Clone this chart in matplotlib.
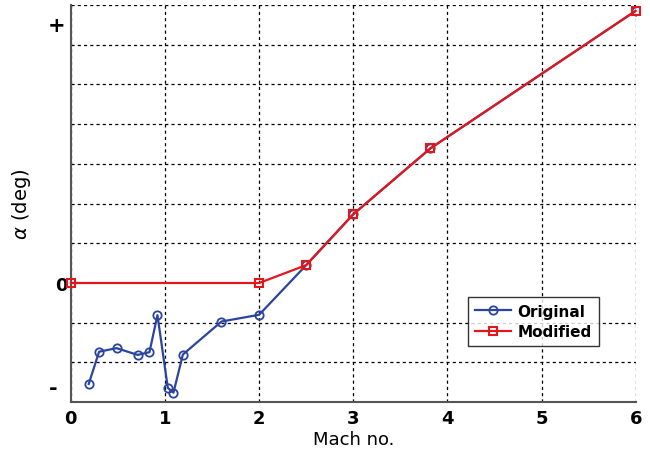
import matplotlib.pyplot as plt
import numpy as np

# angle of attack schedule vs Mach number (grid units, 0 = trim)
mach_orig = [0.19, 0.30, 0.485, 0.71, 0.835, 0.92, 1.03, 1.09, 1.19, 1.60, 2.0, 2.5, 3.0, 3.82, 6.0]
alpha_orig = [-2.54, -1.73, -1.64, -1.81, -1.74, -0.81, -2.64, -2.76, -1.80, -0.97, -0.80, 0.45, 1.73, 3.39, 6.85]

mach_mod = [0.0, 2.0, 2.5, 3.0, 3.82, 6.0]
alpha_mod = [0.0, 0.0, 0.45, 1.73, 3.39, 6.85]

ytick_pos = [-2.6, 0, 6.55]
ytick_labels = ['-', '0', '+']

fig = plt.figure(figsize=(6.5, 4.52), dpi=100)
ax = fig.add_axes([0.109, 0.108, 0.869, 0.879])
ax.set_axisbelow(True)

ax.plot(mach_orig, alpha_orig, '-o', color='#2a44a0', lw=1.6, ms=6,
        mfc='none', mew=1.3, label='Original')
ax.plot(mach_mod, alpha_mod, '-s', color='#e3161b', lw=1.6, ms=6,
        mfc='none', mew=1.5, label='Modified', clip_on=False, zorder=3)

ax.set_xlim(0, 6)
ax.set_ylim(-3, 7)
ax.set_xticks(range(0, 7))
ax.set_yticks(ytick_pos)
ax.set_yticklabels(ytick_labels)
ax.set_yticks(np.arange(-3, 8), minor=True)
ax.tick_params(axis='y', which='both', length=0, pad=2)
ax.tick_params(axis='x', length=0, pad=5)
for lab in ax.get_xticklabels() + ax.get_yticklabels():
    lab.set_fontweight('bold')
    lab.set_fontsize(13)
# the +/- signs sit a little further out than the zero
for lab in ax.get_yticklabels():
    if lab.get_text() == '+':
        lab.set_x(-0.004)
        lab.set_fontsize(15)
    elif lab.get_text() == '-':
        lab.set_x(-0.018)
        lab.set_fontsize(15)

ax.grid(True, axis='x', which='major', color='black', ls=(0, (2.5, 2.5)), lw=0.9)
ax.grid(True, axis='y', which='minor', color='black', ls=(0, (2.5, 2.5)), lw=0.9)
ax.grid(False, axis='y', which='major')

for side in ['top', 'right']:
    ax.spines[side].set_visible(False)
for side in ['left', 'bottom']:
    ax.spines[side].set_linewidth(1.5)
    ax.spines[side].set_color('#555555')
    ax.spines[side].set_zorder(2.6)

ax.set_xlabel('Mach no.', fontsize=13, labelpad=2)
ax.set_ylabel(r'$\alpha$ (deg)', fontsize=14)
ax.yaxis.set_label_coords(-0.067, 0.5)

leg = ax.legend(loc='lower left', bbox_to_anchor=(0.703, 0.142),
                fancybox=False, edgecolor='black',
                prop={'weight': 'bold', 'size': 11}, handlelength=2.4,
                borderpad=0.45, labelspacing=0.35, handletextpad=0.4,
                borderaxespad=0)
leg.get_frame().set_linewidth(1.0)

fig.savefig('out.png', dpi=100)
